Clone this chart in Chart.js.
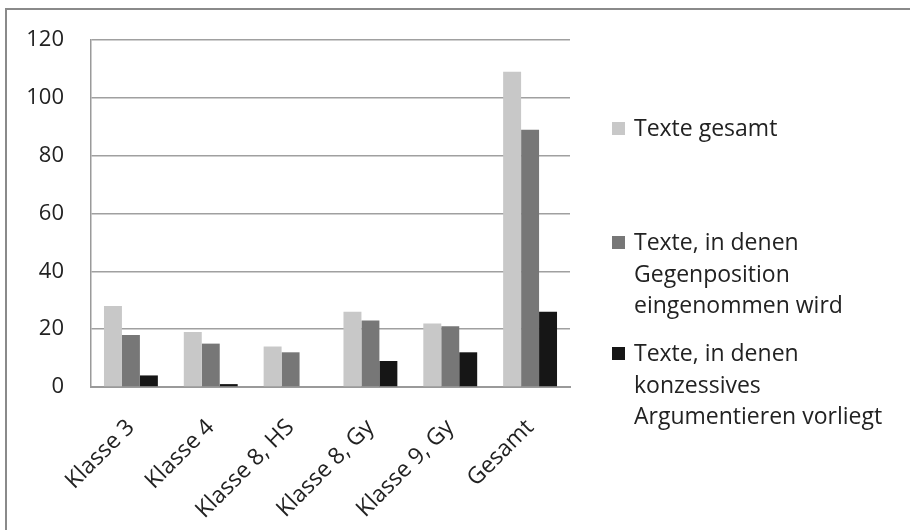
<!DOCTYPE html>
<html>
<head>
<meta charset="utf-8">
<script src="https://cdn.jsdelivr.net/npm/chart.js@4/dist/chart.umd.min.js"></script>
<style>
  html, body { margin:0; padding:0; background:#fff; }
  #wrap { position:relative; width:910px; height:530px; overflow:hidden; }
  #frame { position:absolute; left:5px; top:8px; width:1000px; height:1000px; border-left:2px solid #8a8a8a; border-top:2px solid #8a8a8a; box-sizing:border-box; }
  canvas { position:absolute; left:0; top:0; }
  #legend { position:absolute; left:612px; top:0; font-family:"Open Sans", sans-serif; font-size:23px; color:#222; line-height:31.5px; }
  .item { position:absolute; left:0; white-space:nowrap; }
  .box { position:absolute; left:0; top:10px; width:13px; height:13px; }
  .txt { position:absolute; left:22px; top:0; }
</style>
</head>
<body>
<div id="wrap">
  <div id="frame"></div>
  <canvas id="c" width="910" height="530"></canvas>
  <div id="legend"></div>
</div>
<script>
const categories = ["Klasse 3", "Klasse 4", "Klasse 8, HS", "Klasse 8, Gy", "Klasse 9, Gy", "Gesamt"];
const texteGesamt = [28, 19, 14, 26, 22, 109];
const texteGegenposition = [18, 15, 12, 23, 21, 89];
const texteKonzessiv = [4, 1, 0, 9, 12, 26];
const seriesNames = [
  ["Texte gesamt"],
  ["Texte, in denen", "Gegenposition", "eingenommen wird"],
  ["Texte, in denen", "konzessives", "Argumentieren vorliegt"]
];
const seriesColors = ["#c8c8c8", "#777777", "#161616"];
const yTicks = [0, 20, 40, 60, 80, 100, 120];

const FONT = "'Open Sans', sans-serif";

const chart = new Chart(document.getElementById('c'), {
  type: 'bar',
  data: {
    labels: categories,
    datasets: [texteGesamt, texteGegenposition, texteKonzessiv].map((d, i) => ({
      label: seriesNames[i].join(' '),
      data: d,
      backgroundColor: seriesColors[i],
      borderWidth: 0,
      barPercentage: 1.0,
      categoryPercentage: 0.675
    }))
  },
  options: {
    responsive: false,
    animation: false,
    devicePixelRatio: 1,
    layout: { padding: { left: 26, right: 340, top: 40, bottom: 3 } },
    plugins: { legend: { display: false }, tooltip: { enabled: false } },
    scales: {
      x: {
        afterFit: (axis) => { axis.height = 140; axis.paddingLeft = 0; axis.paddingRight = 0; },
        grid: { display: false, drawTicks: false },
        border: { color: '#9a9a9a', width: 2 },
        ticks: { color: '#222', font: { family: FONT, size: 23 }, maxRotation: 45, minRotation: 45, padding: 27, autoSkip: false }
      },
      y: {
        min: 0, max: 120,
        afterBuildTicks: (axis) => { axis.ticks = yTicks.map(v => ({ value: v })); },
        afterFit: (axis) => { axis.width = 65; axis.paddingTop = 0; axis.paddingBottom = 0; },
        grid: { color: '#a0a0a0', lineWidth: 1.5, drawTicks: false },
        border: { color: '#9a9a9a', width: 1.5 },
        ticks: { color: '#222', font: { family: FONT, size: 22 }, padding: 27 }
      }
    }
  }
});

// HTML legend with multi-line labels
const legendTops = [112, 226, 337];
const legend = document.getElementById('legend');
seriesNames.forEach((lines, i) => {
  const item = document.createElement('div');
  item.className = 'item';
  item.style.top = legendTops[i] + 'px';
  const box = document.createElement('div');
  box.className = 'box';
  box.style.background = seriesColors[i];
  const txt = document.createElement('div');
  txt.className = 'txt';
  txt.innerHTML = lines.map(l => l.replace(/&/g,'&amp;').replace(/</g,'&lt;')).join('<br>');
  item.appendChild(box);
  item.appendChild(txt);
  legend.appendChild(item);
});
</script>
</body>
</html>
